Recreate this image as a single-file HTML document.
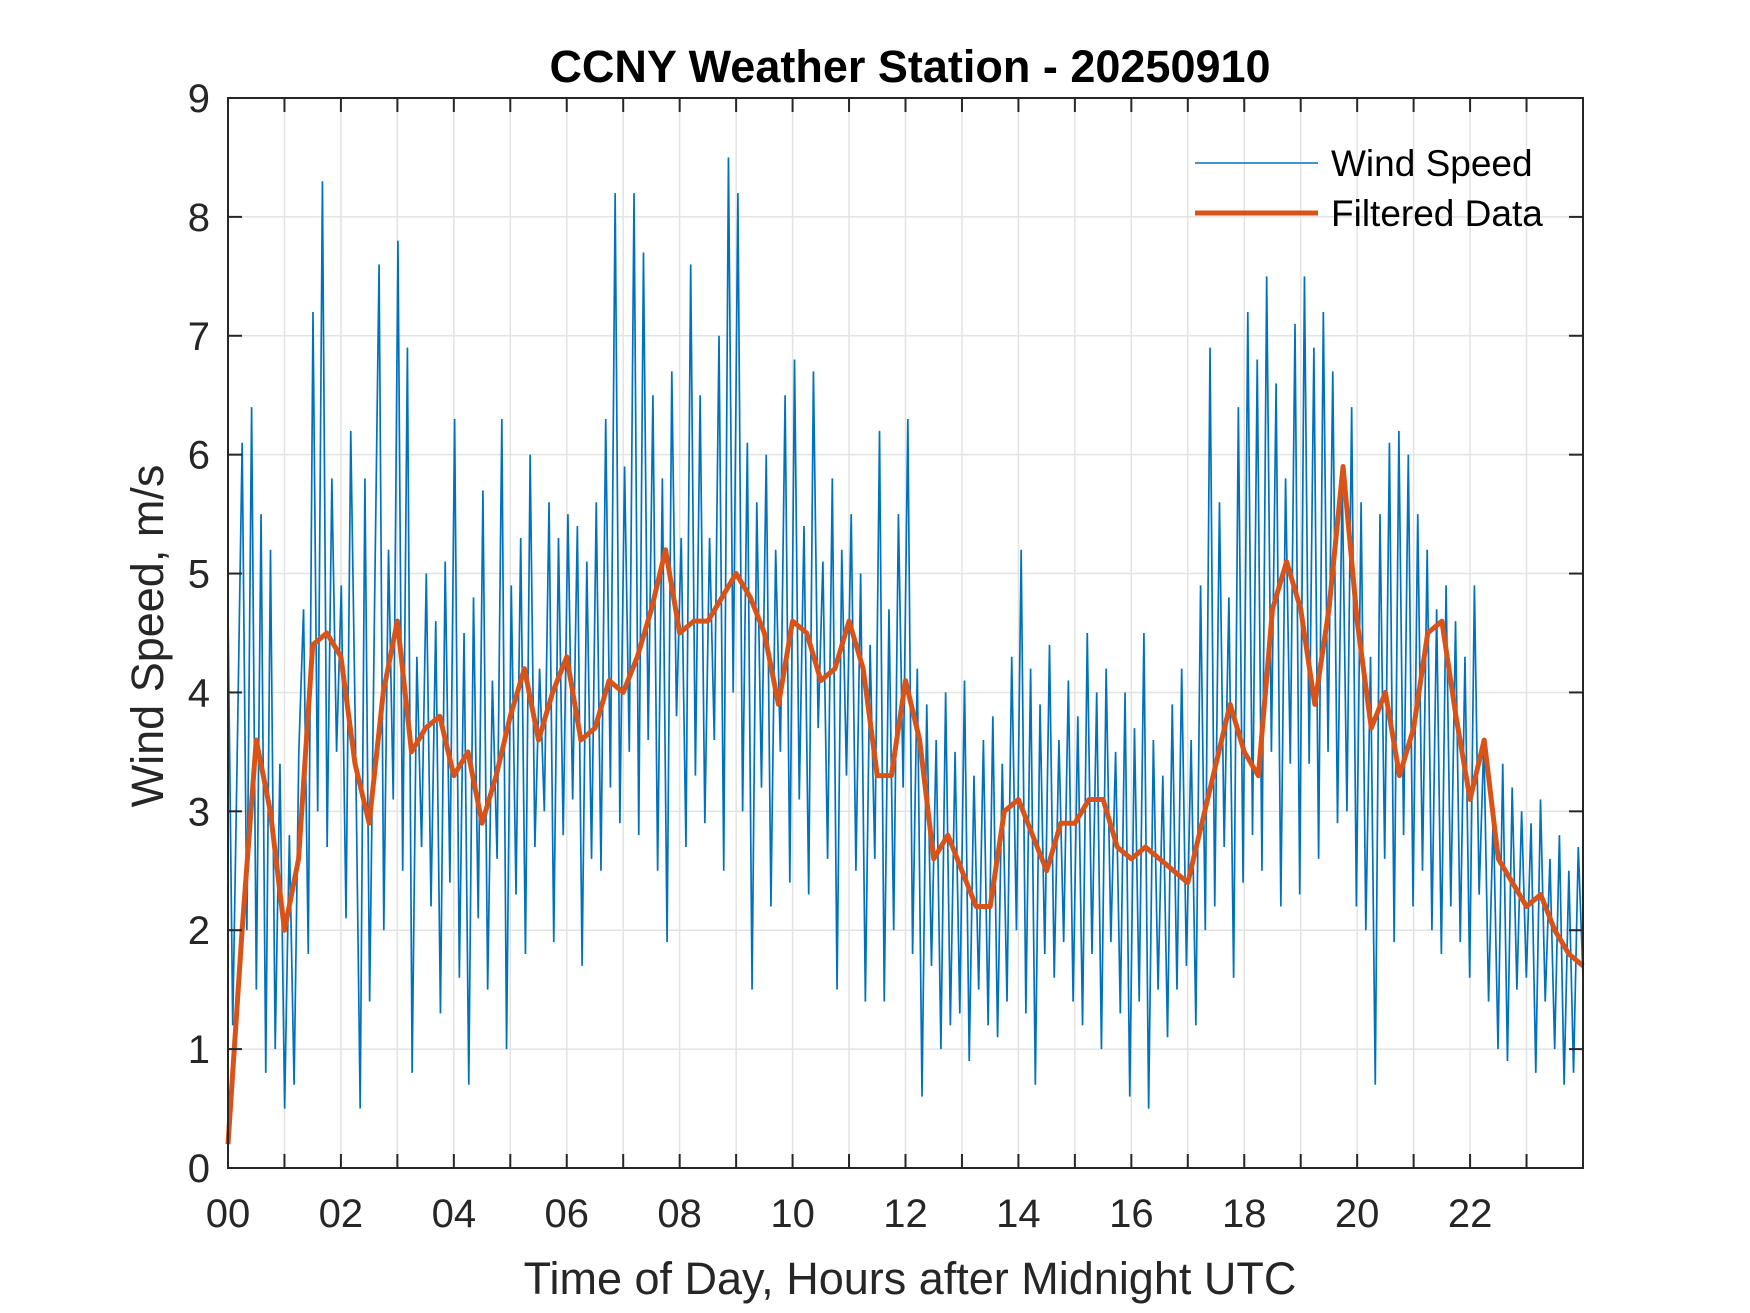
<!DOCTYPE html>
<html><head><meta charset="utf-8"><style>
html,body{margin:0;padding:0;background:#fff;}
svg{display:block;font-family:"Liberation Sans",Arial,sans-serif;}
</style></head><body>
<svg id="chart" width="1750" height="1313" viewBox="0 0 1750 1313" xmlns="http://www.w3.org/2000/svg">
<rect width="1750" height="1313" fill="#fff"/>
<g id="grid"></g>
<g id="series"></g>
<g id="axes"></g>
<text x="910" y="82" text-anchor="middle" font-size="45" font-weight="bold" fill="#000">CCNY Weather Station - 20250910</text>
<text x="910" y="1294" text-anchor="middle" font-size="45" fill="#262626">Time of Day, Hours after Midnight UTC</text>
<text transform="translate(163,636) rotate(-90)" text-anchor="middle" font-size="45" fill="#262626">Wind Speed, m/s</text>
<g>
<line x1="1195" y1="163" x2="1318" y2="163" stroke="#0072BD" stroke-width="1.6"/>
<text x="1331" y="176" font-size="37" fill="#000">Wind Speed</text>
<line x1="1195" y1="213" x2="1318" y2="213" stroke="#D95319" stroke-width="5"/>
<text x="1331" y="226" font-size="37" fill="#000">Filtered Data</text>
</g>
</svg>
<script>
const rawWind = [
4.7,1.2,3.6,6.1,2.0,6.4,1.5,5.5,0.8,5.2,1.0,3.4,
0.5,2.8,0.7,3.5,4.7,1.8,7.2,3.0,8.3,2.7,5.8,3.5,
4.9,2.1,6.2,3.6,0.5,5.8,1.4,4.6,7.6,2.0,5.2,3.1,
7.8,2.5,6.9,0.8,4.3,2.7,5.0,2.2,4.6,1.3,5.1,2.4,
6.3,1.6,4.5,0.7,4.8,2.1,5.7,1.5,4.1,2.6,6.3,1.0,
4.9,2.3,5.3,1.8,6.0,2.7,4.2,3.0,5.6,1.9,5.3,2.8,
5.5,3.1,5.4,1.7,5.1,2.6,5.6,2.5,6.3,3.2,8.2,2.9,
5.9,3.5,8.2,2.8,7.7,3.6,6.5,2.5,5.8,1.9,6.7,3.8,
5.3,2.7,7.6,3.3,6.5,2.9,5.3,3.6,7.0,2.5,8.5,4.0,
8.2,3.0,6.1,1.5,5.6,3.2,6.0,2.2,5.2,3.5,6.5,2.4,
6.8,3.1,5.4,2.3,6.7,3.7,5.1,2.6,5.8,1.5,5.2,3.3,
5.5,2.5,5.0,1.4,4.4,2.6,6.2,1.4,4.7,2.0,5.5,3.2,
6.3,1.8,4.2,0.6,3.9,1.7,3.6,1.0,4.0,1.2,3.5,1.3,
4.1,0.9,3.3,1.5,3.6,1.2,3.8,1.1,3.4,1.4,4.3,2.0,
5.2,1.3,4.2,0.7,3.9,1.8,4.4,1.6,3.6,1.9,4.1,1.4,
3.8,1.2,4.5,1.8,4.0,1.0,4.2,1.9,3.5,1.3,4.0,0.6,
3.7,1.4,4.5,0.5,3.6,1.5,3.3,1.1,3.9,1.5,4.2,1.7,
3.6,1.2,4.9,2.0,6.9,2.2,5.6,2.7,4.8,1.6,6.4,2.4,
7.2,2.8,6.8,2.5,7.5,3.5,6.6,2.2,5.8,3.4,7.1,2.3,
7.5,3.4,6.9,2.6,7.2,3.5,6.7,2.9,5.8,3.0,6.4,2.2,
5.6,2.0,4.3,0.7,5.5,2.6,6.1,1.9,6.2,2.8,6.0,2.2,
5.5,2.5,5.2,2.0,4.7,1.8,4.9,2.2,4.6,1.9,4.3,1.6,
4.9,2.3,3.6,1.4,3.0,1.0,3.4,0.9,3.2,1.5,3.0,1.6,
2.9,0.8,3.1,1.4,2.6,1.0,2.8,0.7,2.5,0.8,2.7,1.6
];
const filtered = [
0.2,2.0,3.6,3.0,2.0,2.6,4.4,4.5,4.3,3.4,2.9,4.0,4.6,3.5,3.7,3.8,3.3,3.5,2.9,3.3,
3.8,4.2,3.6,4.0,4.3,3.6,3.7,4.1,4.0,4.3,4.7,5.2,4.5,4.6,4.6,4.8,5.0,4.8,4.5,3.9,
4.6,4.5,4.1,4.2,4.6,4.2,3.3,3.3,4.1,3.6,2.6,2.8,2.5,2.2,2.2,3.0,3.1,2.8,2.5,2.9,
2.9,3.1,3.1,2.7,2.6,2.7,2.6,2.5,2.4,2.9,3.4,3.9,3.5,3.3,4.7,5.1,4.7,3.9,4.7,5.9,
4.6,3.7,4.0,3.3,3.7,4.5,4.6,3.8,3.1,3.6,2.6,2.4,2.2,2.3,2.0,1.8,1.7
];
const xTickLabels = ["00","02","04","06","08","10","12","14","16","18","20","22"];
const yTickLabels = ["0","1","2","3","4","5","6","7","8","9"];

const L=228,R=1583,T=98,B=1168, XMAX=24, YMAX=9;
const xs = h => L + h/XMAX*(R-L);
const ys = v => B - v/YMAX*(B-T);
const NS="http://www.w3.org/2000/svg";
function mk(tag, parent){const e=document.createElementNS(NS,tag);parent.appendChild(e);return e;}
const grid=document.getElementById('grid'), axes=document.getElementById('axes'), series=document.getElementById('series');

for(let h=1;h<XMAX;h++){
  const g=mk('line',grid);
  
  
  g.setAttribute('x1',xs(h));g.setAttribute('x2',xs(h));g.setAttribute('y1',T);g.setAttribute('y2',B);
  g.setAttribute('stroke','#e3e3e3');g.setAttribute('stroke-width','1.5');
}
for(let v=1;v<YMAX;v++){
  const g=mk('line',grid);
  
  
  g.setAttribute('x1',L);g.setAttribute('x2',R);g.setAttribute('y1',ys(v));g.setAttribute('y2',ys(v));
  g.setAttribute('stroke','#e3e3e3');g.setAttribute('stroke-width','1.5');
}

const rp=mk('polyline',series);


rp.setAttribute('points',rawWind.map((v,i)=>xs(i*XMAX/(rawWind.length-1))+','+ys(v)).join(' '));
rp.setAttribute('fill','none');rp.setAttribute('stroke','#0072BD');rp.setAttribute('stroke-width','1.7');

const fp=mk('polyline',series);


fp.setAttribute('points',filtered.map((v,i)=>xs(i*XMAX/(filtered.length-1))+','+ys(v)).join(' '));
fp.setAttribute('fill','none');fp.setAttribute('stroke','#D95319');fp.setAttribute('stroke-width','5');fp.setAttribute('stroke-linejoin','round');

const box=mk('rect',axes);


box.setAttribute('x',L);box.setAttribute('y',T);box.setAttribute('width',R-L);box.setAttribute('height',B-T);
box.setAttribute('fill','none');box.setAttribute('stroke','#262626');box.setAttribute('stroke-width','2');

const tl=14;
for(let h=1;h<XMAX;h++){
  for(const [y1,y2] of [[B,B-tl],[T,T+tl]]){
    const t=mk('line',axes);
    
    
    t.setAttribute('x1',xs(h));t.setAttribute('x2',xs(h));t.setAttribute('y1',y1);t.setAttribute('y2',y2);
    t.setAttribute('stroke','#262626');t.setAttribute('stroke-width','2');
  }
}
for(let v=1;v<YMAX;v++){
  for(const [x1,x2] of [[L,L+tl],[R,R-tl]]){
    const t=mk('line',axes);
    
    
    t.setAttribute('x1',x1);t.setAttribute('x2',x2);t.setAttribute('y1',ys(v));t.setAttribute('y2',ys(v));
    t.setAttribute('stroke','#262626');t.setAttribute('stroke-width','2');
  }
}
xTickLabels.forEach((s,i)=>{
  const t=mk('text',axes);
  
  
  t.setAttribute('x',xs(i*2));t.setAttribute('y',B+59);t.setAttribute('text-anchor','middle');
  t.setAttribute('font-size','40');t.setAttribute('fill','#262626');t.textContent=s;
});
yTickLabels.forEach((s,i)=>{
  const t=mk('text',axes);
  
  
  t.setAttribute('x',L-18);t.setAttribute('y',ys(i)+14);t.setAttribute('text-anchor','end');
  t.setAttribute('font-size','40');t.setAttribute('fill','#262626');t.textContent=s;
});
</script>
</body></html>
